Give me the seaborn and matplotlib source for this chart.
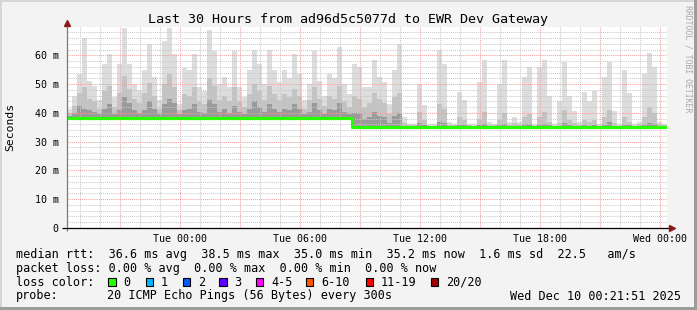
import numpy as np
import pandas as pd
import matplotlib
matplotlib.use("Agg")
import matplotlib.pyplot as plt
import matplotlib.dates as mdates
from matplotlib.ticker import MultipleLocator, FuncFormatter
from matplotlib.patches import Rectangle
import seaborn as sns

# ---------------- data (ms), one value per 15-minute step ----------------
start_time = "2025-12-08 18:21:51"
end_time = "2025-12-10 00:21:51"
step = "15min"

median_ms = [
    38.3, 38.3, 38.4, 38.3, 38.2, 38.3, 38.3, 38.4, 38.3, 38.3,
    38.2, 38.3, 38.3, 38.4, 38.3, 38.3, 38.3, 38.2, 38.3, 38.3,
    38.4, 38.3, 38.3, 38.3, 38.2, 38.3, 38.3, 38.3, 38.4, 38.3,
    38.3, 38.2, 38.3, 38.3, 38.3, 38.4, 38.3, 38.3, 38.3, 38.2,
    38.3, 38.3, 38.3, 38.4, 38.3, 38.3, 38.2, 38.3, 38.3, 38.3,
    38.3, 38.4, 38.3, 38.3, 38.2, 38.3, 38.3, 35.1, 35.0, 35.1,
    35.1, 35.2, 35.1, 35.1, 35.0, 35.1, 35.1, 35.1, 35.2, 35.1,
    35.1, 35.0, 35.1, 35.1, 35.1, 35.2, 35.1, 35.1, 35.1, 35.0,
    35.1, 35.1, 35.1, 35.2, 35.1, 35.1, 35.0, 35.1, 35.1, 35.1,
    35.1, 35.2, 35.1, 35.1, 35.0, 35.1, 35.1, 35.1, 35.2, 35.1,
    35.1, 35.0, 35.1, 35.1, 35.1, 35.2, 35.1, 35.1, 35.1, 35.0,
    35.1, 35.1, 35.1, 35.2, 35.1, 35.1, 35.0, 35.1, 35.2, 35.2,
]

max_ms = [
    41.5, 46.0, 53.6, 66.0, 51.0, 49.5, 44.5, 57.0, 60.5, 45.5,
    57.0, 69.5, 57.0, 50.0, 48.0, 55.0, 64.0, 52.5, 44.5, 65.0,
    69.5, 60.5, 43.0, 55.5, 55.0, 60.5, 49.0, 47.5, 69.0, 61.5,
    50.0, 52.5, 49.0, 61.5, 49.0, 45.5, 55.0, 62.0, 57.0, 50.0,
    62.0, 55.0, 50.7, 55.0, 52.0, 60.5, 53.6, 44.5, 50.0, 61.5,
    51.0, 46.0, 53.6, 52.0, 63.0, 50.0, 46.5, 57.0, 56.0, 49.0,
    49.0, 58.3, 52.5, 50.7, 43.2, 55.0, 64.0, 38.5, 36.3, 36.3,
    50.0, 42.7, 36.0, 36.0, 62.0, 57.0, 36.8, 36.3, 47.3, 44.5,
    36.3, 36.0, 50.7, 58.3, 36.8, 36.3, 50.0, 58.3, 36.8, 38.5,
    37.0, 52.5, 56.0, 36.2, 56.0, 58.3, 46.0, 36.2, 44.2, 57.8,
    46.0, 40.6, 36.8, 47.3, 44.2, 47.7, 36.2, 52.5, 57.8, 40.6,
    36.2, 54.8, 46.8, 36.2, 37.0, 53.6, 61.0, 56.0, 37.0, 36.2,
]

mid_ms = [
    40.0, 42.5, 47.0, 49.0, 45.0, 44.0, 41.5, 47.5, 49.5, 42.0,
    47.0, 53.0, 48.5, 45.0, 43.5, 47.0, 50.5, 46.0, 41.5, 50.0,
    53.5, 49.0, 41.0, 46.5, 46.0, 49.0, 44.0, 43.0, 52.0, 49.5,
    44.5, 46.0, 44.0, 49.0, 44.0, 42.0, 46.5, 50.0, 47.5, 44.5,
    49.5, 46.5, 44.5, 46.5, 45.5, 48.5, 46.0, 41.5, 44.5, 49.0,
    45.0, 42.5, 46.0, 45.0, 49.5, 44.0, 42.0, 46.0, 45.0, 42.0,
    43.5, 47.0, 45.0, 43.5, 39.5, 45.5, 47.0, 36.5, 35.8, 35.8,
    40.5, 37.5, 35.6, 35.6, 43.0, 41.5, 35.8, 35.7, 38.5, 37.5,
    35.7, 35.6, 38.0, 40.5, 35.8, 35.7, 37.5, 40.0, 35.8, 36.4,
    36.0, 38.5, 39.5, 35.6, 38.5, 40.5, 37.0, 35.6, 36.5, 41.0,
    37.5, 36.5, 35.8, 37.5, 36.8, 37.5, 35.6, 38.5, 41.0, 36.5,
    35.6, 38.5, 37.0, 35.6, 36.0, 38.5, 42.0, 40.0, 36.0, 35.7,
]

dark_ms = [
    39.0, 40.0, 42.5, 41.5, 41.0, 40.5, 39.5, 41.5, 43.0, 39.5,
    41.0, 45.5, 43.5, 41.0, 40.0, 41.0, 44.0, 41.5, 39.5, 43.0,
    45.0, 43.5, 39.5, 41.0, 41.5, 43.0, 40.5, 40.0, 44.5, 43.0,
    40.5, 41.5, 40.0, 42.5, 40.5, 39.5, 41.5, 44.0, 42.0, 40.5,
    43.0, 41.5, 40.5, 41.5, 41.0, 43.0, 41.5, 39.5, 40.5, 43.5,
    41.0, 39.5, 41.5, 41.0, 43.5, 40.5, 39.5, 40.0, 39.5, 38.0,
    38.5, 40.5, 39.0, 38.5, 36.5, 39.0, 40.0, 35.6, 35.4, 35.4,
    36.5, 35.8, 35.3, 35.3, 37.0, 36.5, 35.4, 35.4, 35.9, 35.8,
    35.4, 35.3, 35.8, 36.2, 35.4, 35.4, 35.8, 36.0, 35.4, 35.6,
    35.5, 35.9, 36.0, 35.3, 35.9, 36.2, 35.7, 35.3, 35.6, 36.5,
    35.8, 35.6, 35.4, 35.8, 35.6, 35.8, 35.3, 35.9, 36.8, 35.6,
    35.3, 35.9, 35.7, 35.3, 35.5, 35.9, 36.5, 36.0, 35.5, 35.4,
]

title = "Last 30 Hours from ad96d5c5077d to EWR Dev Gateway"
legend_lines = [
    "median rtt:  36.6 ms avg  38.5 ms max  35.0 ms min  35.2 ms now  1.6 ms sd  22.5   am/s",
    "packet loss: 0.00 % avg  0.00 % max  0.00 % min  0.00 % now",
]
loss_labels = ["0", "1", "2", "3", "4-5", "6-10", "11-19", "20/20"]
loss_colors = ["#26ff00", "#00b8ff", "#0059ff", "#5e00ff", "#ff00ff", "#ff5500", "#ff0000", "#a10000"]
probe_text = "20 ICMP Echo Pings (56 Bytes) every 300s"
date_text = "Wed Dec 10 00:21:51 2025"

# ---------------- figure ----------------
W, H = 697, 310
fig = plt.figure(figsize=(W / 100, H / 100), dpi=100, facecolor="#f3f3f3")
MONO = "DejaVu Sans Mono"
plt.rcParams["font.family"] = [MONO]

def fx(px):
    return px / W

def fy(py):
    return 1 - py / H

ax = fig.add_axes([fx(67), fy(228), fx(600), (228 - 27) / H])
ax.set_facecolor("white")

times = pd.date_range(start=start_time, periods=len(median_ms), freq=step)
t_edges = times.append(pd.DatetimeIndex([pd.Timestamp(end_time)]))

def ext(v):
    return np.append(np.asarray(v, dtype=float), v[-1])

med_e = ext(median_ms)
ax.fill_between(t_edges, med_e, ext(max_ms), step="post", color="#dddddd", lw=0, zorder=1)
ax.fill_between(t_edges, med_e, ext(mid_ms), step="post", color="#c3c3c3", lw=0, zorder=1.1)
ax.fill_between(t_edges, med_e, ext(dark_ms), step="post", color="#9a9a9a", lw=0, zorder=1.2)

df_med = pd.DataFrame({"time": t_edges, "median": med_e})
sns.lineplot(data=df_med, x="time", y="median", ax=ax, drawstyle="steps-post",
             color="#26ff00", linewidth=2.3, zorder=3, legend=False)

ax.set_xlim(pd.Timestamp(start_time), pd.Timestamp(end_time))
ax.set_ylim(0, 69.9)

# ticks and grids
ax.xaxis.set_major_locator(mdates.HourLocator(byhour=range(0, 24, 3)))
ax.xaxis.set_minor_locator(mdates.HourLocator(interval=1))

def xfmt(v, pos):
    d = mdates.num2date(v)
    return d.strftime("%a %H:%M") if d.hour % 6 == 0 else ""

ax.xaxis.set_major_formatter(FuncFormatter(xfmt))
ax.yaxis.set_major_locator(MultipleLocator(10))
ax.yaxis.set_minor_locator(MultipleLocator(2))
ax.yaxis.set_major_formatter(FuncFormatter(lambda v, p: "0" if v == 0 else f"{v:.0f} m"))

ax.set_axisbelow(False)
ax.grid(which="major", color="#f4a0a0", linestyle=(0, (1, 1)), linewidth=0.75)
ax.grid(which="minor", color="#c9c9c9", linestyle=(0, (1, 1)), linewidth=0.75)
ax.tick_params(which="both", length=0)
ax.tick_params(axis="x", which="major", labelsize=7.2, pad=4.5)
ax.tick_params(axis="y", which="major", labelsize=7.2, pad=6)
for lab in ax.get_xticklabels() + ax.get_yticklabels():
    lab.set_family(MONO)
ax.set_xlabel("")
ax.set_ylabel("")
for s in ax.spines.values():
    s.set_visible(False)

# axis lines with arrows
ax.plot([0, 0], [-0.015, 1.02], transform=ax.transAxes, color="#7a7a7a", lw=0.9,
        clip_on=False, zorder=4, solid_capstyle="butt")
ax.plot([-0.008, 1.006], [0, 0], transform=ax.transAxes, color="black", lw=0.9,
        clip_on=False, zorder=4, solid_capstyle="butt")
ax.plot([0], [1.022], transform=ax.transAxes, marker="^", color="#8b1a1a", ms=4.5,
        clip_on=False, zorder=5, lw=0)
ax.plot([1.008], [0], transform=ax.transAxes, marker=">", color="#8b1a1a", ms=4.5,
        clip_on=False, zorder=5, lw=0)

# texts
fig.text(fx(348), fy(19), title, ha="center", va="center", fontsize=9.6, family=MONO)
fig.text(fx(10.5), fy(127), "Seconds", rotation=90, ha="center", va="center",
         fontsize=8.2, family=MONO)
fig.text(fx(688), fy(5), "RRDTOOL / TOBI OETIKER", rotation=270, ha="center", va="top",
         fontsize=5.9, family=MONO, color="#a8a8a8")

fs = 8.5
fig.text(fx(16), fy(254.3), legend_lines[0], ha="left", va="center", fontsize=fs, family=MONO)
fig.text(fx(16), fy(268.3), legend_lines[1], ha="left", va="center", fontsize=fs, family=MONO)
fig.text(fx(16), fy(282), "loss color:", ha="left", va="center", fontsize=fs, family=MONO)
box_x = [108.3, 145.7, 182.7, 219.3, 256.0, 306.0, 366.0, 430.7]
for bx, lab, col in zip(box_x, loss_labels, loss_colors):
    fig.add_artist(Rectangle((fx(bx), fy(286)), 7.3 / W, 7.7 / H, transform=fig.transFigure,
                             facecolor=col, edgecolor="black", lw=0.8))
    fig.text(fx(bx + 15), fy(282), lab, ha="left", va="center", fontsize=fs, family=MONO)
fig.text(fx(16), fy(296), "probe:", ha="left", va="center", fontsize=fs, family=MONO)
fig.text(fx(107), fy(296), probe_text, ha="left", va="center", fontsize=fs, family=MONO)
fig.text(fx(681), fy(296), date_text, ha="right", va="center", fontsize=fs, family=MONO)

# frame
fig.add_artist(Rectangle((0, 0), 2 / W, 1, transform=fig.transFigure, color="#d6d6d6", lw=0))
fig.add_artist(Rectangle((0, 1 - 2 / H), 1, 2 / H, transform=fig.transFigure, color="#d6d6d6", lw=0))
fig.add_artist(Rectangle((1 - 3 / W, 0), 3 / W, 1, transform=fig.transFigure, color="#9c9c9c", lw=0))
fig.add_artist(Rectangle((0, 0), 1, 3 / H, transform=fig.transFigure, color="#9c9c9c", lw=0))

fig.savefig("out.png", dpi=100, facecolor=fig.get_facecolor())
